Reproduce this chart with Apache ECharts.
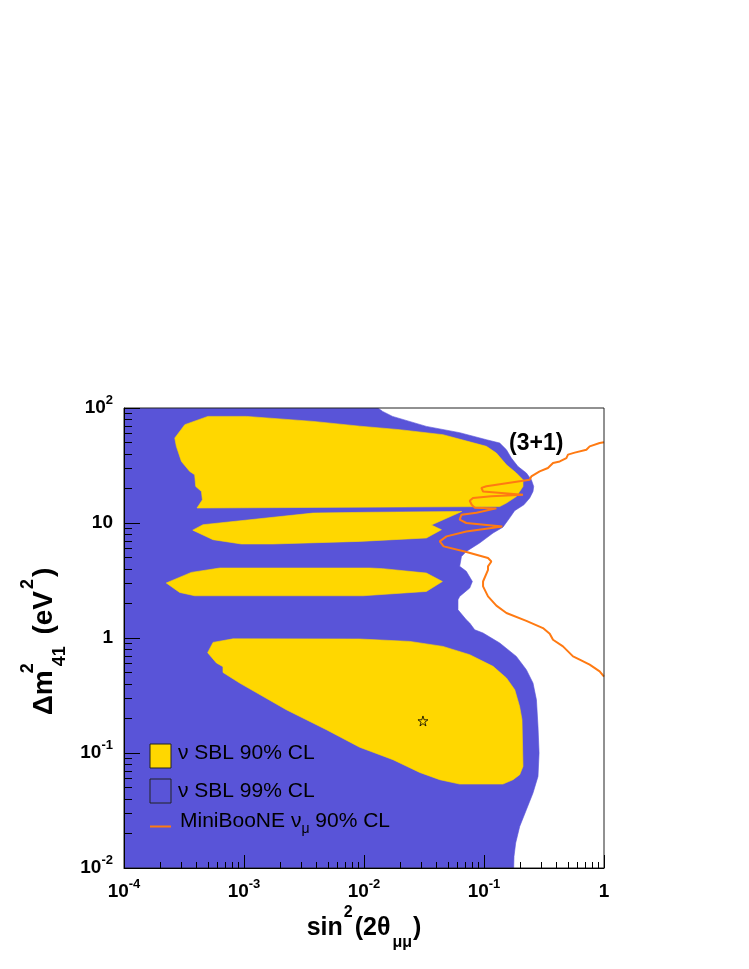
<!DOCTYPE html>
<html><head><meta charset="utf-8">
<script src="https://cdn.jsdelivr.net/npm/echarts@6/dist/echarts.min.js"></script>
<style>html,body{margin:0;padding:0;background:#fff}#c{width:749px;height:969px}</style>
</head><body><div id="c"></div>
<script>
// ---- axis ranges ----
const xRange = [1e-4, 1];
const yRange = [1e-2, 1e2];

// ---- nu SBL 99% CL region (sin^2 2theta, dm2) ----
const sbl99 = [[1e-4,100],[0.0131,100],[0.0143,93.4],[0.0173,84.5],[0.0331,69.2],[0.0627,61.0],[0.1047,53.0],[0.1352,49.6],[0.1538,43.4],[0.169,36.7],[0.192,31.0],[0.2254,27.2],[0.248,23.8],[0.2594,20.8],[0.256,18.8],[0.2404,16.5],[0.215,14.4],[0.18,12.8],[0.165,11.2],[0.1438,9.2],[0.1189,8.18],[0.092,6.70],[0.0712,5.66],[0.0649,5.12],[0.0627,4.20],[0.0712,3.80],[0.080,3.10],[0.076,2.72],[0.0627,2.30],[0.0607,2.15],[0.0607,1.76],[0.0712,1.44],[0.076,1.35],[0.0836,1.18],[0.0982,1.105],[0.1352,0.905],[0.186,0.692],[0.2254,0.53],[0.256,0.406],[0.2735,0.29],[0.2818,0.17],[0.2877,0.1],[0.2818,0.0626],[0.256,0.0449],[0.2254,0.0321],[0.1984,0.023],[0.1836,0.0165],[0.1778,0.0126],[0.1768,0.01],[1e-4,0.01]];

// ---- nu SBL 90% CL islands ----
const sbl90a = [[5.0e-4,84.5],[1.05e-3,84.5],[3.76e-3,76.5],[0.0092,69.5],[0.0198,64.8],[0.0455,58.6],[0.1047,46.4],[0.1268,40.6],[0.1538,32.1],[0.186,27.2],[0.2113,23.8],[0.2113,20.8],[0.186,17.0],[0.1538,14.9],[0.1352,13.9],[4.06e-4,13.5],[4.5e-4,15.9],[4.42e-4,18.8],[3.96e-4,20.8],[3.88e-4,26.3],[3.53e-4,28.1],[3.01e-4,34.3],[2.73e-4,46.4],[2.65e-4,54.8],[3.21e-4,71.6]];
const sbl90b = [[3.74e-4,8.67],[4.55e-4,9.66],[3.76e-3,12.2],[0.0112,12.4],[0.0652,12.6],[0.0364,9.6],[0.0442,8.74],[0.0331,7.41],[0.0092,6.92],[1.745e-3,6.57],[9.5e-4,6.57],[5.52e-4,7.16]];
const sbl90c = [[2.25e-4,3.01],[3.64e-4,3.72],[6.27e-4,4.06],[0.0112,4.06],[0.0143,4.01],[0.0331,3.67],[0.045,3.10],[0.0331,2.54],[0.0098,2.33],[3.88e-4,2.33],[2.91e-4,2.49]];
const sbl90d = [[4.98e-4,0.745],[5.52e-4,0.916],[8.1e-4,0.983],[0.0092,0.98],[0.0241,0.934],[0.0455,0.845],[0.076,0.716],[0.1189,0.567],[0.1538,0.449],[0.1804,0.355],[0.198,0.254],[0.2073,0.195],[0.2113,0.0765],[0.1984,0.0648],[0.1746,0.0586],[0.1438,0.0537],[0.0627,0.0537],[0.0428,0.0586],[0.0291,0.0678],[0.01744,0.0875],[0.0092,0.1123],[4.86e-3,0.1595],[2.25e-3,0.238],[9.2e-4,0.406],[6.68e-4,0.502],[6.68e-4,0.563],[5.89e-4,0.607]];

// ---- MiniBooNE nu_mu 90% CL curve ----
const miniboone = [[1.0,50.4],[0.920,49.6],[0.760,46.4],[0.713,43.4],[0.570,40.9],[0.501,39.3],[0.486,36.7],[0.428,34.3],[0.376,33.2],[0.341,30.1],[0.291,28.1],[0.248,25.4],[0.2404,23.8],[0.1047,20.9],[0.0951,20.2],[0.0982,18.8],[0.2113,17.6],[0.1152,17.1],[0.0809,16.5],[0.076,15.6],[0.079,14.4],[0.0836,13.6],[0.1268,13.4],[0.0865,12.3],[0.0649,11.8],[0.0627,10.7],[0.0712,10.0],[0.142,9.33],[0.0712,8.45],[0.0487,7.65],[0.0428,6.92],[0.0461,6.26],[0.069,5.66],[0.108,4.96],[0.1152,4.63],[0.108,4.20],[0.108,3.92],[0.0982,3.10],[0.0982,2.81],[0.108,2.30],[0.1268,1.91],[0.1538,1.65],[0.2254,1.41],[0.310,1.22],[0.353,1.09],[0.376,0.966],[0.455,0.845],[0.552,0.692],[0.627,0.648],[0.760,0.586],[0.920,0.513],[1.0,0.461]];

// ---- best fit point ----
const bestFit = [[0.031, 0.19]];

const BLUE = '#5954d8', YELLOW = '#ffd700', ORANGE = '#ff7a12';
const FONT = 'Liberation Sans, Arial, Helvetica, sans-serif';

function tickLabel(v) {
  const e = Math.round(Math.log10(v));
  if (e === 0) return '{b|1}';
  if (e === 1) return '{b|10}';
  return '{b|10}{s|' + e + '}';
}
const labelRich = {
  b: {fontSize: 19, fontWeight: 'bold', fontFamily: FONT, color: '#000', lineHeight: 28},
  s: {fontSize: 13, fontWeight: 'bold', fontFamily: FONT, color: '#000', verticalAlign: 'top'}
};
const xTitleRich = {
  a: {fontSize: 25, fontWeight: 'bold', fontFamily: FONT, color: '#000', lineHeight: 46},
  sup: {fontSize: 16, fontWeight: 'bold', fontFamily: FONT, color: '#000', verticalAlign: 'top', padding: [0, 2, 0, 1]},
  sub: {fontSize: 16, fontWeight: 'bold', fontFamily: FONT, color: '#000', verticalAlign: 'bottom', padding: [0, 1, 0, 2]}
};
const yTitleRich = {
  a: {fontSize: 28, fontWeight: 'bold', fontFamily: FONT, color: '#000', lineHeight: 50},
  sup0: {fontSize: 18, fontWeight: 'bold', fontFamily: FONT, color: '#000', verticalAlign: 'top', width: 0.01, padding: [0, 0, 0, 2]},
  sup: {fontSize: 18, fontWeight: 'bold', fontFamily: FONT, color: '#000', verticalAlign: 'top', padding: [0, 2, 0, 2]},
  sub: {fontSize: 18, fontWeight: 'bold', fontFamily: FONT, color: '#000', verticalAlign: 'bottom', padding: [0, 4, 0, 2]}
};

function polygonSeries(name, pts, color, z) {
  return {
    type: 'custom', name: name, coordinateSystem: 'cartesian2d', data: pts, z: z, clip: true, silent: true,
    encode: {x: 0, y: 1},
    renderItem: function (params, api) {
      if (params.dataIndexInside !== 0) return null;
      const n = params.dataInsideLength;
      const points = [];
      for (let i = 0; i < n; i++) points.push(api.coord([api.value(0, i), api.value(1, i)]));
      return {type: 'polygon', shape: {points: points}, style: {fill: color, stroke: color, lineWidth: 0.6}};
    }
  };
}

const chart = echarts.init(document.getElementById('c'), null, {renderer: 'canvas'});
chart.setOption({
  animation: false,
  backgroundColor: '#fff',
  grid: {left: 124, top: 408, width: 480, height: 460, show: true, z: 20,
         backgroundColor: 'transparent', borderColor: '#222', borderWidth: 1},
  xAxis: {
    type: 'log', logBase: 10, min: xRange[0], max: xRange[1], z: 20,
    axisLine: {show: true, onZero: false, lineStyle: {color: '#000', width: 1}},
    axisTick: {show: true, inside: true, length: 13, lineStyle: {color: '#000', width: 1}},
    minorTick: {show: true, splitNumber: 9, length: 6, lineStyle: {color: '#000', width: 1}},
    splitLine: {show: false}, minorSplitLine: {show: false},
    axisLabel: {margin: 10, formatter: tickLabel, rich: labelRich},
    name: '{a|sin}{sup|2}{a|(2θ}{sub|μμ}{a|)}', nameLocation: 'middle', nameGap: 37,
    nameTextStyle: {rich: xTitleRich}
  },
  yAxis: {
    type: 'log', logBase: 10, min: yRange[0], max: yRange[1], z: 20,
    axisLine: {show: true, onZero: false, lineStyle: {color: '#000', width: 1}},
    axisTick: {show: true, inside: true, length: 16, lineStyle: {color: '#000', width: 1}},
    minorTick: {show: true, splitNumber: 9, length: 8, lineStyle: {color: '#000', width: 1}},
    splitLine: {show: false}, minorSplitLine: {show: false},
    axisLabel: {margin: 11, formatter: tickLabel, rich: labelRich},
    name: '{a|Δm}{sup0|2}{sub|41}{a| (eV}{sup|2}{a|)}', nameLocation: 'middle', nameGap: 23,
    nameTextStyle: {rich: yTitleRich, padding: [0, 7, 0, 0]}
  },
  series: [
    polygonSeries('ν SBL 99% CL', sbl99, BLUE, 2),
    polygonSeries('ν SBL 90% CL a', sbl90a, YELLOW, 3),
    polygonSeries('ν SBL 90% CL b', sbl90b, YELLOW, 3),
    polygonSeries('ν SBL 90% CL c', sbl90c, YELLOW, 3),
    polygonSeries('ν SBL 90% CL d', sbl90d, YELLOW, 3),
    {type: 'line', name: 'MiniBooNE', data: miniboone, showSymbol: false, z: 4, clip: true, silent: true,
     lineStyle: {color: ORANGE, width: 2}},
    {type: 'scatter', name: 'best fit', data: bestFit, z: 5, silent: true,
     symbol: 'path://M50,0 L61,35 L98,35 L68,57 L79,91 L50,70 L21,91 L32,57 L2,35 L39,35 Z',
     symbolSize: 10, itemStyle: {color: 'rgba(0,0,0,0)', borderColor: '#000', borderWidth: 1}}
  ],
  graphic: [
    {type: 'text', z: 30, style: {x: 509, y: 444, text: '(3+1)', fontSize: 23, fontWeight: 'bold', fontFamily: FONT, fill: '#000', verticalAlign: 'middle'}},
    {type: 'rect', shape: {x: 150, y: 744, width: 21, height: 24}, z: 30, style: {fill: YELLOW, stroke: '#222', lineWidth: 1}},
    {type: 'rect', shape: {x: 150, y: 779, width: 21, height: 24}, z: 30, style: {fill: BLUE, stroke: '#222', lineWidth: 1}},
    {type: 'line', shape: {x1: 150, y1: 826.5, x2: 171, y2: 826.5}, z: 30, style: {stroke: ORANGE, lineWidth: 2}},
    {type: 'text', z: 30, style: {x: 178, y: 753, text: 'ν SBL 90% CL', fontSize: 21, fontFamily: FONT, fill: '#000', verticalAlign: 'middle'}},
    {type: 'text', z: 30, style: {x: 178, y: 791, text: 'ν SBL 99% CL', fontSize: 21, fontFamily: FONT, fill: '#000', verticalAlign: 'middle'}},
    {type: 'text', z: 30, style: {x: 180, y: 821, text: '{a|MiniBooNE ν}{s|μ}{a| 90% CL}', fontFamily: FONT, fill: '#000', verticalAlign: 'middle',
      rich: {a: {fontSize: 21, fontFamily: FONT, lineHeight: 30}, s: {fontSize: 14, fontFamily: FONT, verticalAlign: 'bottom'}}}}
  ]
});
</script></body></html>
